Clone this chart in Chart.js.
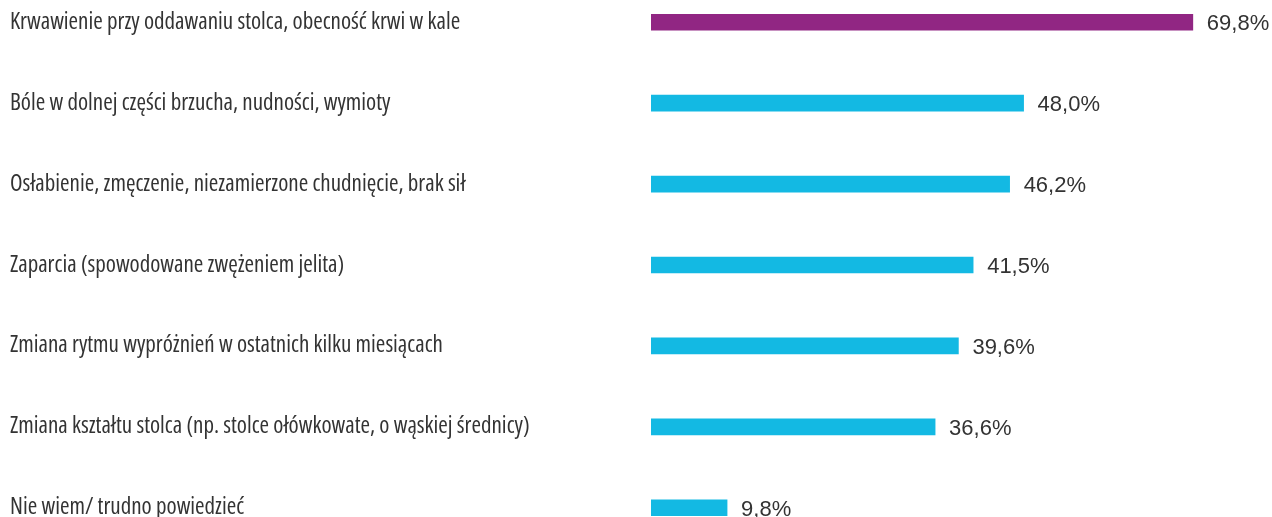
<!DOCTYPE html>
<html>
<head>
<meta charset="utf-8">
<script src="https://cdn.jsdelivr.net/npm/chart.js@4"></script>
<style>
  html, body { margin: 0; padding: 0; background: #fff; overflow: hidden; }
  /* taller than the window: the last row is cut off at the bottom like in the original */
  #wrap { position: absolute; left: 0; top: -32px; width: 1272px; height: 594px; }
</style>
</head>
<body>
<div id="wrap"><canvas id="myChart" width="1272" height="594"></canvas></div>
<script>
const categories = [
	"Krwawienie przy oddawaniu stolca, obecność krwi w kale",
	"Bóle w dolnej części brzucha, nudności, wymioty",
	"Osłabienie, zmęczenie, niezamierzone chudnięcie, brak sił",
	"Zaparcia (spowodowane zwężeniem jelita)",
	"Zmiana rytmu wypróżnień w ostatnich kilku miesiącach",
	"Zmiana kształtu stolca (np. stolce ołówkowate, o wąskiej średnicy)",
	"Nie wiem/ trudno powiedzieć"
];
const values = [69.8, 48.0, 46.2, 41.5, 39.6, 36.6, 9.8];

const purple = '#912683';
const cyan = '#13b9e3';
const colors = values.map((v, i) => i === 0 ? purple : cyan);

// draws "69,8%" etc. right of each bar
const valueLabels = {
	id: 'valueLabels',
	afterDatasetsDraw(chart) {
		const c = chart.ctx;
		const meta = chart.getDatasetMeta(0);
		c.save();
		c.font = '22px "Liberation Sans", Arial, sans-serif';
		c.fillStyle = '#333333';
		c.textAlign = 'left';
		c.textBaseline = 'middle';
		meta.data.forEach((bar, i) => {
			let txt = values[i].toFixed(1).replace('.', ',') + '%';
			c.fillText(txt, bar.x + 14, bar.y + 2);
		});
		c.restore();
	}
};

const ctx = document.getElementById('myChart');
new Chart(ctx, {
	type: 'bar',
	data: {
		labels: categories,
		datasets: [{
			data: values,
			backgroundColor: colors,
			barThickness: 16,
			borderWidth: 0
		}]
	},
	options: {
		indexAxis: 'y',
		responsive: false,
		animation: false,
		layout: { padding: { left: 10, right: 0, top: 0, bottom: 0 } },
		plugins: {
			legend: { display: false },
			tooltip: { enabled: false }
		},
		scales: {
			x: {
				display: false,
				min: 0,
				max: 80
			},
			y: {
				grid: { display: false },
				border: { display: false },
				afterFit(scale) { scale.width = 641; },
				ticks: {
					crossAlign: 'far',
					padding: 0,
					color: '#333333',
					// "condensed" goes into the font string so Open Sans picks its narrow width
					font: { family: '"Open Sans", sans-serif', weight: 'condensed 400', size: 23 }
				}
			}
		}
	},
	plugins: [valueLabels]
});
</script>
</body>
</html>
